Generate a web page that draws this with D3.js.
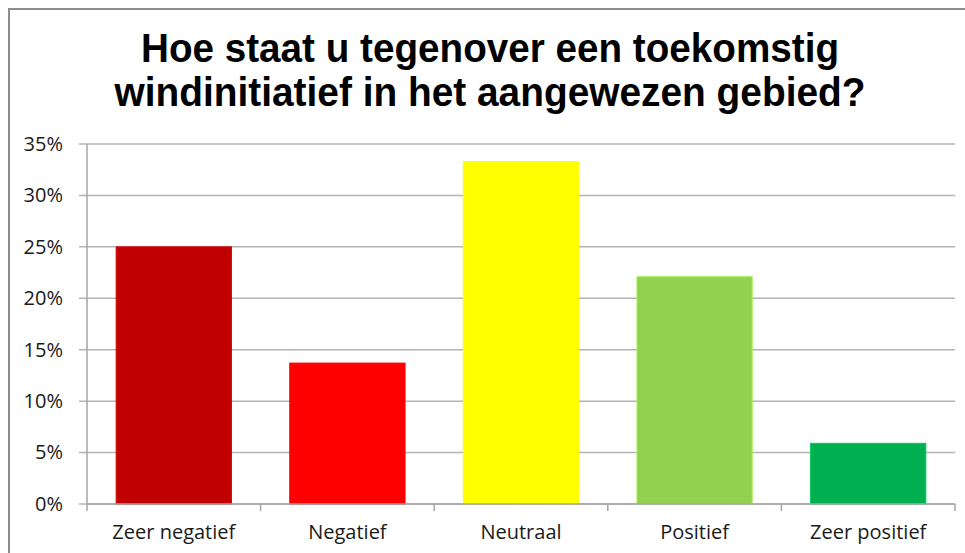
<!DOCTYPE html>
<html>
<head>
<meta charset="utf-8">
<script src="https://cdn.jsdelivr.net/npm/d3@7"></script>
<style>
  body { margin: 0; background: #fff; }
  svg { display: block; }
</style>
</head>
<body>
<div class="wrapper"></div>
<script>
var categories = ["Zeer negatief", "Negatief", "Neutraal", "Positief", "Zeer positief"];
var values = [0.25, 0.137, 0.333, 0.221, 0.059];
var barColors = ["#C00000", "#FF0000", "#FFFF00", "#92D050", "#00B050"];
var yTicks = [0, 0.05, 0.10, 0.15, 0.20, 0.25, 0.30, 0.35];
var titleLines = ["Hoe staat u tegenover een toekomstig", "windinitiatief in het aangewezen gebied?"];

var width = 965, height = 553;
var margin = {top: 144, right: 10, bottom: 49, left: 87};

var svg = d3.select(".wrapper").append("svg")
  .attr("width", width)
  .attr("height", height);

// chart frame (runs off the right / bottom edge like the screenshot)
svg.append("rect")
  .attr("x", 9).attr("y", 9)
  .attr("width", width + 20).attr("height", height + 20)
  .attr("fill", "#fff")
  .attr("stroke", "#8c8c8c")
  .attr("stroke-width", 2);

// title, squeezed to the width of the original
var titleWidths = [698, 751];
svg.append("g")
  .attr("font-family", "'Liberation Sans', Arial, sans-serif")
  .attr("font-weight", "bold")
  .attr("font-size", 40)
  .attr("text-anchor", "middle")
  .selectAll("text")
  .data(titleLines)
  .enter().append("text")
    .attr("x", 490)
    .attr("y", function(d, i) { return 62 + i * 44; })
    .attr("textLength", function(d, i) { return titleWidths[i]; })
    .attr("lengthAdjust", "spacingAndGlyphs")
    .attr("fill", "#000")
    .text(function(d) { return d; });

var x = d3.scaleBand()
  .domain(categories)
  .range([margin.left, width - margin.right])
  .paddingInner(0.336)
  .paddingOuter(0.168);

var y = d3.scaleLinear()
  .domain([0, 0.35])
  .range([height - margin.bottom, margin.top]);

// gridlines
svg.append("g")
  .selectAll("line")
  .data(yTicks)
  .enter().append("line")
    .attr("x1", margin.left - 8)
    .attr("x2", width - margin.right)
    .attr("y1", function(d) { return y(d); })
    .attr("y2", function(d) { return y(d); })
    .attr("stroke", "#b4b4b4")
    .attr("stroke-width", 1.5);

// y axis labels
var yAxis = svg.append("g")
  .attr("transform", "translate(" + margin.left + ",0)")
  .call(d3.axisLeft(y).tickValues(yTicks).tickFormat(d3.format(".0%")).tickSize(0).tickPadding(24));
yAxis.select(".domain").remove();
yAxis.selectAll("text")
  .attr("font-family", "'Open Sans', 'Noto Sans', sans-serif")
  .attr("font-size", 20)
  .attr("fill", "#1a1a1a");

svg.append("line")
  .attr("x1", margin.left).attr("x2", margin.left)
  .attr("y1", y(0.35)).attr("y2", y(0))
  .attr("stroke", "#a6a6a6")
  .attr("stroke-width", 1.5);

// bars
svg.append("g")
  .selectAll("rect")
  .data(categories)
  .enter().append("rect")
    .attr("x", function(d) { return x(d); })
    .attr("y", function(d, i) { return y(values[i]); })
    .attr("width", x.bandwidth())
    .attr("height", function(d, i) { return y(0) - y(values[i]); })
    .attr("fill", function(d, i) { return barColors[i]; })
    .attr("stroke", function(d, i) { return d3.color(barColors[i]).brighter(0.4); })
    .attr("stroke-width", 1);

// x axis
var xAxis = svg.append("g")
  .attr("transform", "translate(0," + y(0) + ")")
  .call(d3.axisBottom(x).tickSize(0).tickPadding(21));
xAxis.select(".domain").remove();
xAxis.selectAll("text")
  .attr("font-family", "'Open Sans', 'Noto Sans', sans-serif")
  .attr("font-size", 20)
  .attr("fill", "#1a1a1a");

svg.append("line")
  .attr("x1", margin.left).attr("x2", width - margin.right)
  .attr("y1", y(0)).attr("y2", y(0))
  .attr("stroke", "#a6a6a6")
  .attr("stroke-width", 1.5);

// tick marks between categories
var bounds = categories.map(function(c) { return x(c) - x.step() * x.paddingInner() / 2; });
bounds.push(width - margin.right);
svg.append("g")
  .selectAll("line")
  .data(bounds)
  .enter().append("line")
    .attr("x1", function(d) { return d; })
    .attr("x2", function(d) { return d; })
    .attr("y1", y(0))
    .attr("y2", y(0) + 7)
    .attr("stroke", "#a6a6a6")
    .attr("stroke-width", 1.5);
</script>
</body>
</html>
